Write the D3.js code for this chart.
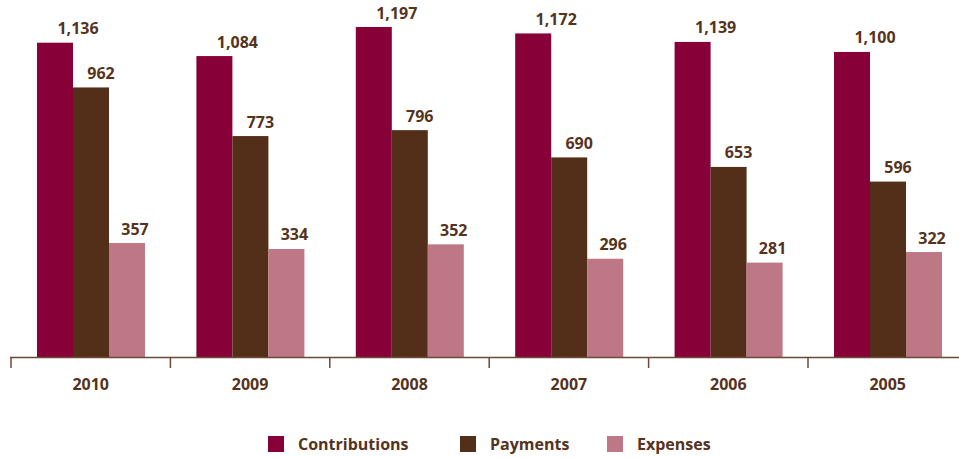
<!DOCTYPE html>
<html><head><meta charset="utf-8">
<script src="https://cdn.jsdelivr.net/npm/d3@7"></script>
<style>body{margin:0;background:#fff;}svg{display:block;}</style>
</head><body>
<svg id="c" width="959" height="458"></svg>
<script>
const years = ["2010","2009","2008","2007","2006","2005"];
const seriesNames = ["Contributions","Payments","Expenses"];
const contributions = [1136,1084,1197,1172,1139,1100];
const payments = [962,773,796,690,653,596];
const expenses = [357,334,352,296,281,322];
const colors = ["#870037","#532f19","#be7784"];
const labelShift = [23, 10, 8];

const values = [contributions, payments, expenses];
const svg = d3.select("#c");
const font = "'Open Sans', sans-serif";
const txt = "#55331d";
const axisCol = "#6b4a38";
const baseY = 357;
const bw = 159.4;
const x0 = d3.scaleBand().domain(years).range([11, 11 + bw*6]).paddingInner(0).paddingOuter(0);
const x1 = d3.scaleBand().domain(seriesNames).range([0, 108]);
const y = d3.scaleLinear().domain([-86, 1302]).range([baseY, 0]);

years.forEach((yr, i) => {
  const g = svg.append("g").attr("transform", `translate(${x0(yr) + 26},0)`);
  seriesNames.forEach((s, j) => {
    const v = values[j][i];
    g.append("rect").attr("x", x1(s)).attr("width", x1.bandwidth())
      .attr("y", y(v)).attr("height", baseY - y(v)).attr("fill", colors[j]);
    g.append("text").attr("x", x1(s) + x1.bandwidth()/2 + labelShift[j]).attr("y", y(v) - 8.5)
      .attr("text-anchor","middle").attr("font-family", font).attr("font-weight","bold")
      .attr("font-size", 16).attr("fill", txt).text(d3.format(",")(v));
  });
});

const axis = d3.axisBottom(x0).tickSize(0).tickSizeOuter(0);
const ag = svg.append("g").attr("transform", `translate(0,${baseY})`).call(axis);
ag.select(".domain").remove();
ag.append("line").attr("x1", 10).attr("x2", 959).attr("y1", 0.5).attr("y2", 0.5).attr("stroke", axisCol).attr("stroke-width", 1.5);
d3.range(years.length + 1).forEach(i => {
  const xx = 11 + i*x0.bandwidth();
  ag.append("line").attr("x1", xx).attr("x2", xx).attr("y1", 0).attr("y2", 11).attr("stroke", axisCol).attr("stroke-width", 1.5);
});
ag.selectAll(".tick text").attr("y", 33).attr("dy", 0).attr("font-family", font).attr("font-weight","bold")
  .attr("font-size", 16).attr("fill", txt);

const legX = [268, 460, 607];
seriesNames.forEach((s, j) => {
  svg.append("rect").attr("x", legX[j]).attr("y", 436).attr("width", 16).attr("height", 16).attr("fill", colors[j]);
  svg.append("text").attr("x", legX[j] + 30).attr("y", 449.5).attr("font-family", font).attr("font-weight","bold")
    .attr("font-size", 16).attr("fill", txt).text(s);
});
</script>
</body></html>
